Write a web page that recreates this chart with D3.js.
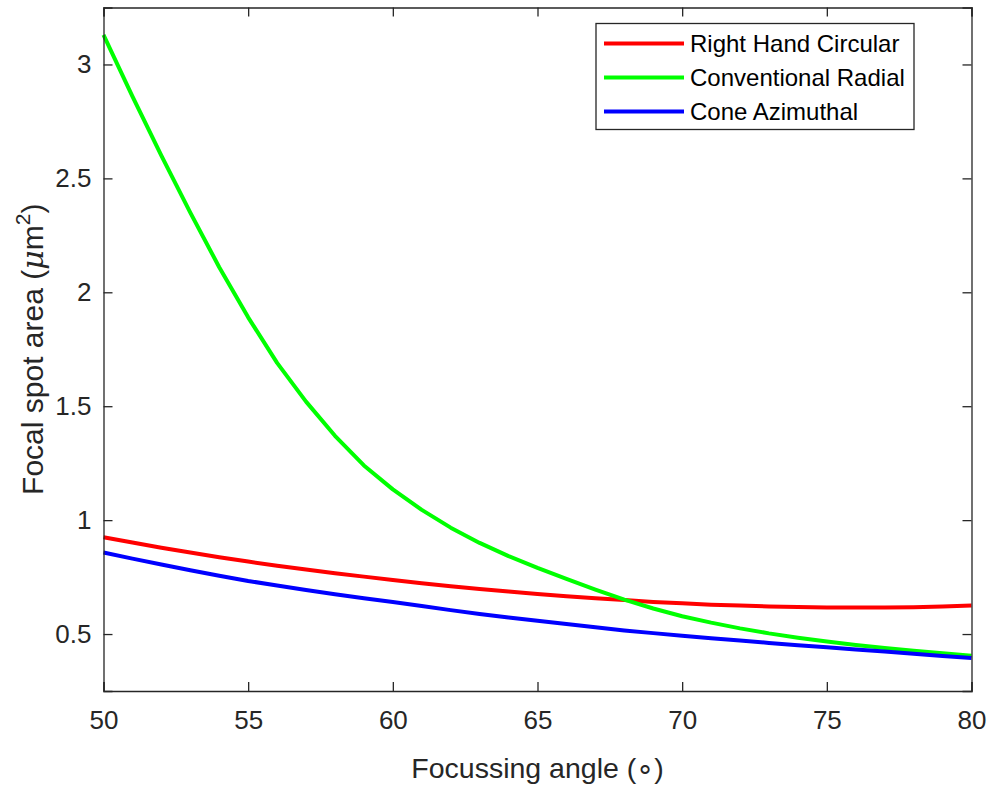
<html>
<head>
<meta charset="UTF-8" />
<style>
  body { margin: 0; background: #fff; }
  text { font-family: Arial, "Liberation Sans", Helvetica, sans-serif; }
</style>
</head>
<body>
<script src="https://d3js.org/d3.v7.min.js" charset="utf-8"></script>
<script>
var width = 989;
var height = 788;

// focussing angle (deg)
var angles = [50,51,52,53,54,55,56,57,58,59,60,61,62,63,64,65,66,67,68,69,70,71,72,73,74,75,76,77,78,79,80];

// focal spot area (um^2)
var rightHandCircular = [0.925,0.902,0.879,0.858,0.837,0.818,0.800,0.783,0.767,0.752,0.737,0.723,0.710,0.698,0.687,0.676,0.666,0.657,0.649,0.641,0.635,0.629,0.625,0.621,0.619,0.617,0.616,0.616,0.618,0.621,0.625];
var conventionalRadial = [3.13,2.86,2.60,2.35,2.11,1.89,1.69,1.52,1.37,1.24,1.135,1.045,0.967,0.900,0.842,0.790,0.742,0.695,0.651,0.612,0.578,0.550,0.525,0.503,0.484,0.467,0.452,0.439,0.427,0.416,0.405];
var coneAzimuthal = [0.858,0.831,0.805,0.780,0.756,0.733,0.713,0.693,0.675,0.657,0.641,0.623,0.605,0.588,0.573,0.558,0.544,0.530,0.516,0.504,0.492,0.482,0.472,0.461,0.451,0.442,0.432,0.423,0.413,0.404,0.395];

var seriesNames = ["Right Hand Circular","Conventional Radial","Cone Azimuthal"];
var seriesColors = ["#ff0000","#00ff00","#0000ff"];
var seriesValues = [rightHandCircular, conventionalRadial, coneAzimuthal];

var xTicks = [50,55,60,65,70,75,80];
var yTicks = [0.5,1,1.5,2,2.5,3];

var margin = {left:103.5, top:7.5, right:971.5, bottom:691};
var axisColor = "#262626";

var svg = d3.select("body")
			.append("svg")
			.attr("width",width)
			.attr("height",height);

var x = d3.scaleLinear().domain([50,80]).range([margin.left,margin.right]);
var y = d3.scaleLinear().domain([0.25,3.25]).range([margin.bottom,margin.top]);

//曲线
var line = d3.line()
			 .x((d,i) => x(angles[i]))
			 .y(d => y(d));

svg.append("g")
   .selectAll("path")
   .data(seriesValues)
   .enter()
   .append("path")
   .attr("d",line)
   .attr("fill","none")
   .attr("stroke",(d,i) => seriesColors[i])
   .attr("stroke-width",4)
   .attr("stroke-linejoin","round");

//坐标轴
var tickLen = 9;
var fmt = d3.format("");

var xAxisB = svg.append("g").attr("transform","translate(0,"+margin.bottom+")")
	.call(d3.axisBottom(x).tickValues(xTicks).tickSize(-tickLen).tickPadding(20).tickFormat(fmt));
var xAxisT = svg.append("g").attr("transform","translate(0,"+margin.top+")")
	.call(d3.axisTop(x).tickValues(xTicks).tickSize(-tickLen).tickFormat(""));
var yAxisL = svg.append("g").attr("transform","translate("+margin.left+",0)")
	.call(d3.axisLeft(y).tickValues(yTicks).tickSize(-tickLen).tickPadding(12).tickFormat(fmt));
var yAxisR = svg.append("g").attr("transform","translate("+margin.right+",0)")
	.call(d3.axisRight(y).tickValues(yTicks).tickSize(-tickLen).tickFormat(""));

[xAxisB,xAxisT,yAxisL,yAxisR].forEach(function(g){
	g.attr("font-size",null).attr("font-family",null);
	g.select(".domain").attr("stroke",axisColor).attr("stroke-width",1.3);
	g.selectAll(".tick line").attr("stroke",axisColor).attr("stroke-width",1.3);
	g.selectAll(".tick text").attr("fill",axisColor).style("font-size","26px");
});

//坐标轴标题
svg.append("text")
   .attr("x",(margin.left+margin.right)/2)
   .attr("y",778)
   .attr("text-anchor","middle")
   .attr("fill",axisColor)
   .style("font-size","28.5px")
   .text("Focussing angle (\u2218)");

var yl = svg.append("text")
   .attr("transform","translate(43,"+((margin.top+margin.bottom)/2)+") rotate(-90)")
   .attr("text-anchor","middle")
   .attr("fill",axisColor)
   .style("font-size","30px");
yl.append("tspan").text("Focal spot area (");
yl.append("tspan").attr("font-style","italic").attr("font-family","'DejaVu Serif', serif").text("\u03bc");
yl.append("tspan").text("m");
yl.append("tspan").attr("dy",-13).style("font-size","21px").text("2");
yl.append("tspan").attr("dy",13).text(")");

//图例
var legend = svg.append("g");
legend.append("rect")
	  .attr("x",596).attr("y",23.5)
	  .attr("width",318).attr("height",106)
	  .attr("fill","#fff")
	  .attr("stroke",axisColor)
	  .attr("stroke-width",1.3);

var rows = legend.selectAll("g.row")
	  .data(seriesNames)
	  .enter()
	  .append("g")
	  .attr("transform",(d,i) => "translate(0,"+(43.5+i*34)+")");

rows.append("line")
	.attr("x1",604).attr("x2",684)
	.attr("y1",0).attr("y2",0)
	.attr("stroke",(d,i) => seriesColors[i])
	.attr("stroke-width",4);

rows.append("text")
	.attr("x",690)
	.attr("y",8)
	.attr("fill","#000")
	.style("font-size","24px")
	.text(d => d);
</script>
</body>
</html>
